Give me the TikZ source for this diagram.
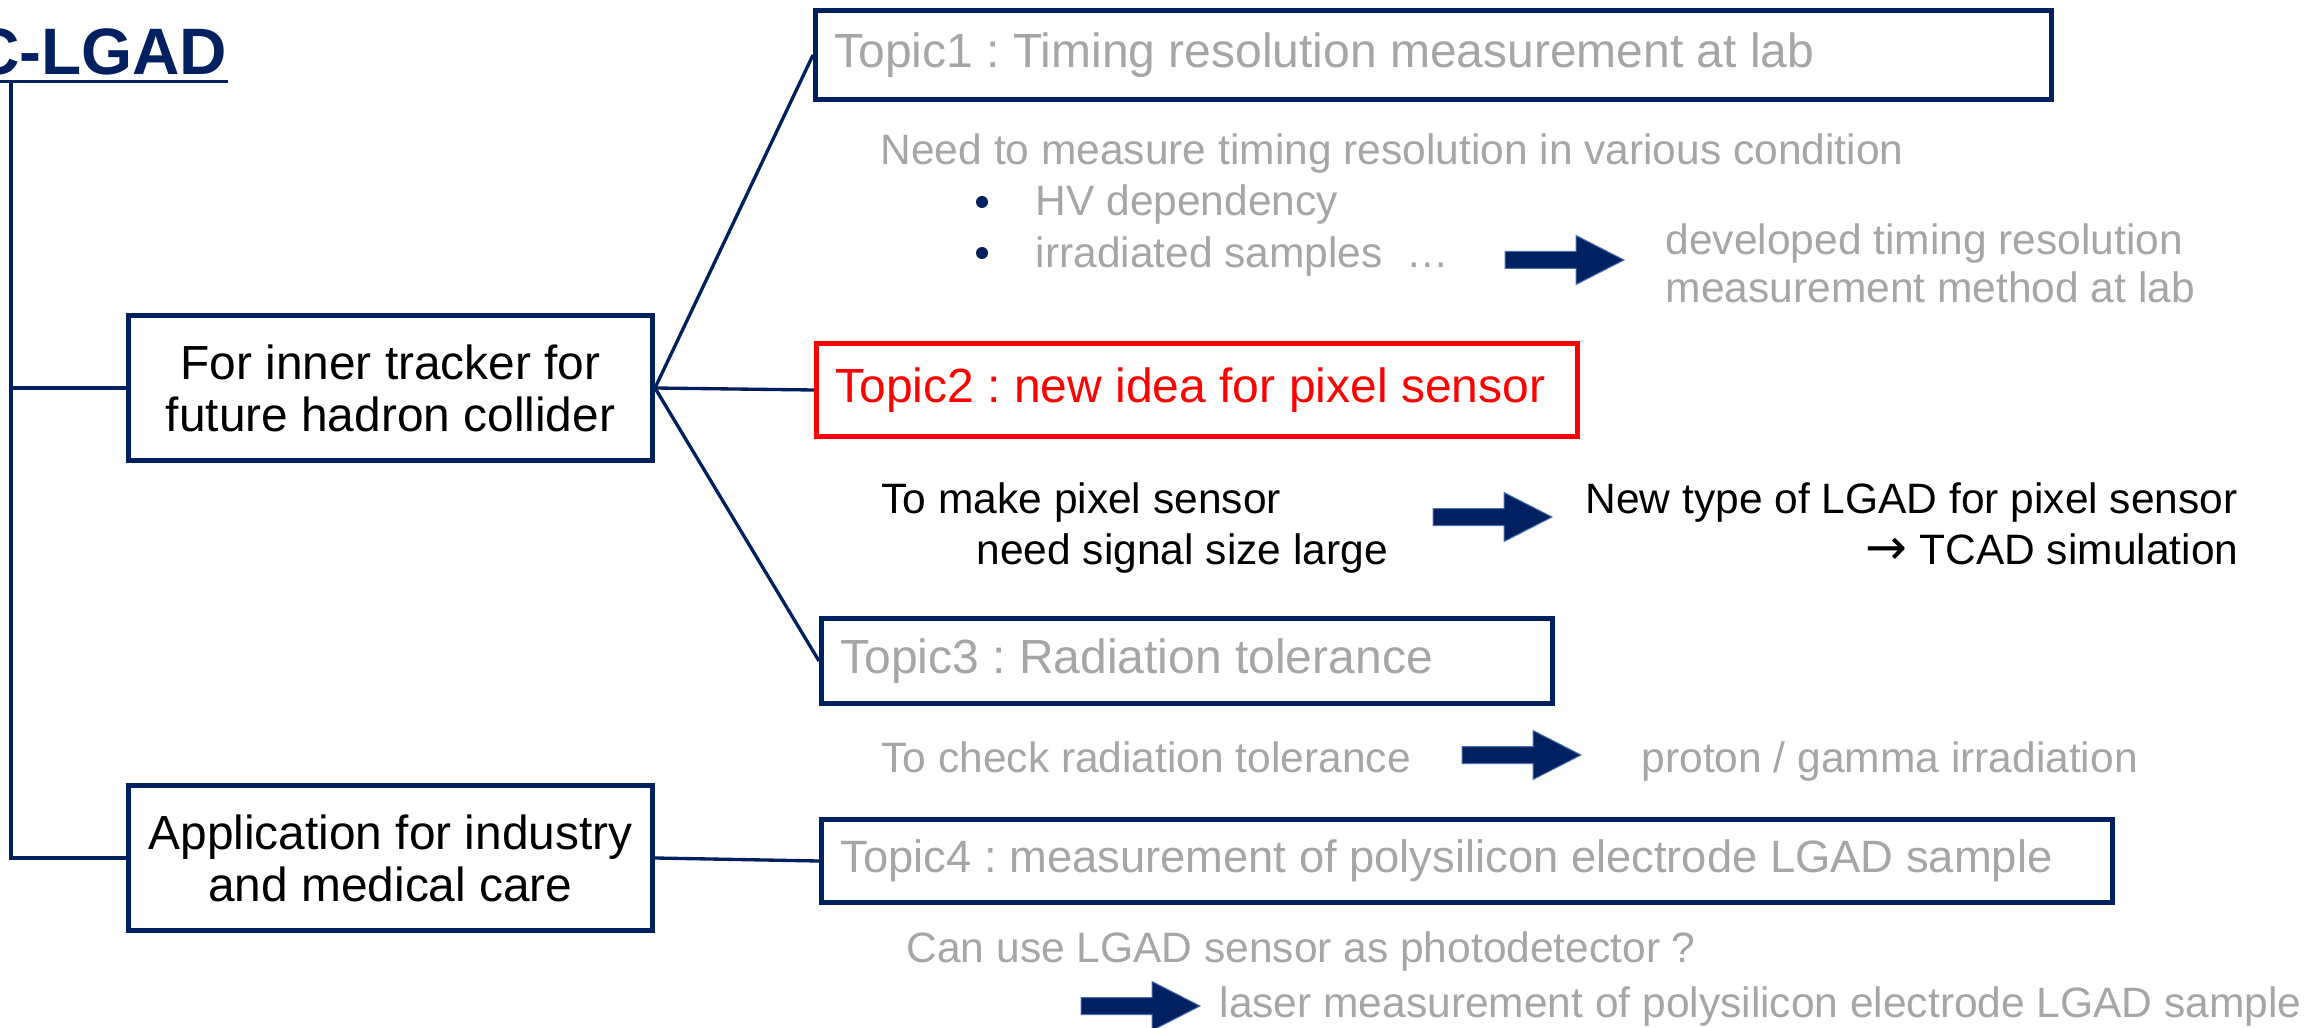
\documentclass[tikz,border=0pt]{standalone}
\usepackage{fontspec}
\setmainfont{Liberation Sans}
\newfontfamily\arrowfont{DejaVu Sans}
\definecolor{navy}{HTML}{002060}
\definecolor{lgray}{HTML}{A6A6A6}
\definecolor{arrowedge}{HTML}{4A6FB5}
\frenchspacing
\hyphenpenalty=10000
\begin{document}
\begin{tikzpicture}[x=0.3pt,y=-0.3pt,
  box/.style={draw=navy, line width=1.5pt, inner sep=0pt, align=center, font=\fontsize{14.35}{15.6}\selectfont},
  topicbox/.style={draw=navy, line width=1.5pt, inner ysep=0pt, inner xsep=5.7pt, text=lgray, font=\fontsize{14.4}{15.6}\selectfont},
  conn/.style={draw=navy, line width=1pt},
  txt/.style={anchor=base west, inner sep=0pt, font=\fontsize{12.75}{14}\selectfont},
  blockarrow/.pic={\fill[navy, draw=arrowedge, line width=0.3pt] (0,-8.5) -- (71,-8.5) -- (71,-24.5) -- (119,0) -- (71,24.5) -- (71,8.5) -- (0,8.5) -- cycle;}
]
\useasboundingbox[fill=white] (0,0) rectangle (2319,1028);

% title
\node[anchor=base east, inner sep=0pt, text=navy, font=\fontsize{19.7}{22}\selectfont\bfseries] (title) at (228,75) {C-LGAD};
\draw[navy, line width=0.9pt] ([yshift=-2.1pt]title.base west) -- ([yshift=-2.1pt]title.base east);
\coordinate (root) at (11,82);

% main boxes
\node[box, minimum width=157.2pt, minimum height=43.5pt] (inner) at (390.5,388) {For inner tracker for\\future hadron collider};
\node[box, minimum width=157.2pt, minimum height=43.5pt] (app) at (390.5,858) {Application for industry\\and medical care};

% topic boxes
\node[topicbox, minimum width=370.8pt, minimum height=26.7pt] (t1) at (1433.5,55) {\makebox[359.4pt][l]{Topic1 : Timing resolution measurement at lab}};
\node[topicbox, draw=red, text=red, minimum width=228.3pt, minimum height=27.9pt] (t2) at (1197,390) {\makebox[216.9pt][l]{Topic2 : new idea for pixel sensor}};
\node[topicbox, minimum width=219.3pt, minimum height=25.5pt] (t3) at (1187,661) {\makebox[207.9pt][l]{Topic3 : Radiation tolerance}};
\node[topicbox, minimum width=387.3pt, minimum height=24.9pt, font=\fontsize{13.6}{15}\selectfont] (t4) at (1467,861) {\makebox[375.9pt][l]{Topic4 : measurement of polysilicon electrode LGAD sample}};

% tree connectors
\draw[conn] (root) |- (app.west);
\draw[conn] (root |- inner.west) -- (inner.west);
\draw[conn] (inner.east) -- (t1.west);
\draw[conn] (inner.east) -- (t2.west);
\draw[conn] (inner.east) -- (t3.west);
\draw[conn] (app.east) -- (t4.west);

% topic 1 details
\node[txt, text=lgray] (need) at (880,165) {Need to measure timing resolution in various condition};
\fill[navy] (982,202) circle[radius=6];
\fill[navy] (982,253) circle[radius=6];
\node[txt, text=lgray] (hv) at (1035,216) {HV dependency};
\node[txt, text=lgray] (irr) at (1035,267) {irradiated samples\ \ …};
\pic at (1505,260) {blockarrow};
\node[txt, text=lgray] (dev1) at (1665,255) {developed timing resolution};
\node[txt, text=lgray] (dev2) at (1665,303) {measurement method at lab};

% topic 2 details
\node[txt] (mk1) at (881,513) {To make pixel sensor};
\node[txt] (mk2) at (976,564) {need signal size large};
\pic at (1433,517) {blockarrow};
\node[txt] (nt1) at (1585,513) {New type of LGAD for pixel sensor};
\node[txt, anchor=base east] (nt2) at (2239,564) {{\arrowfont\fontsize{15}{15}\selectfont →} TCAD simulation};

% topic 3 details
\node[txt, text=lgray] (chk) at (881,772) {To check radiation tolerance};
\pic at (1462,755) {blockarrow};
\node[txt, text=lgray] (prot) at (1641,772) {proton / gamma irradiation};

% topic 4 details
\node[txt, text=lgray] (can) at (906,962) {Can use LGAD sensor as photodetector ?};
\pic at (1081,1006) {blockarrow};
\node[txt, text=lgray] (laser) at (1219,1017) {laser measurement of polysilicon electrode LGAD sample};
\end{tikzpicture}
\end{document}
